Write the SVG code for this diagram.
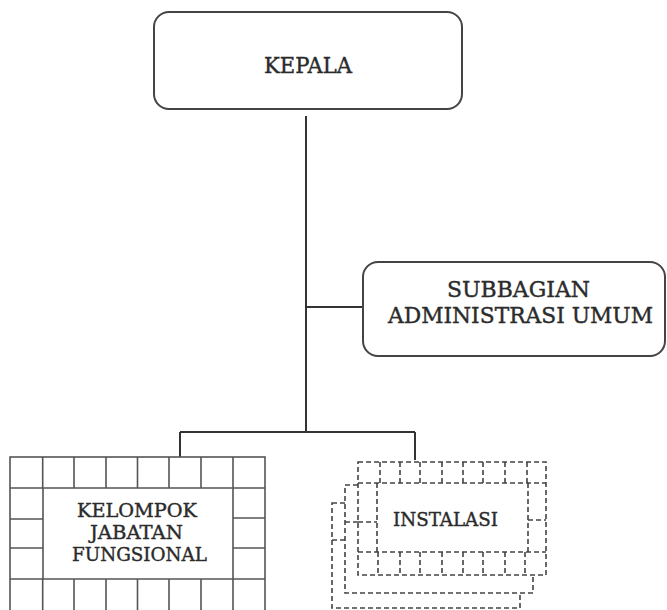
<svg xmlns="http://www.w3.org/2000/svg" width="667" height="610" viewBox="0 0 667 610">
<style>
.box{fill:#fff;stroke:#444;stroke-width:2}
.grid{fill:none;stroke:#555;stroke-width:1.6}
.gridbg{fill:#fff;stroke:#555;stroke-width:1.6}
.dash{fill:#fff;stroke:#444;stroke-width:1.6;stroke-dasharray:5 3}
.dl{fill:none;stroke:#444;stroke-width:1.6;stroke-dasharray:5 3}
.conn{fill:none;stroke:#333;stroke-width:2}
text{font-family:"DejaVu Serif","Liberation Serif",serif;fill:#2b2b2b;stroke:#2b2b2b;stroke-width:0.4;text-anchor:middle}
.big{font-size:21.5px}
.small{font-size:18.5px}
</style>
<rect width="667" height="610" fill="#fff"/>
<g id="connectors">
<path class="conn" d="M306 116V432M306 307H363M180 432H415M180 432V457M415 432V460"/>
</g>
<g id="kepala">
<rect class="box" x="154" y="12" width="308" height="97" rx="15"/>
<text class="big" x="308" y="73" textLength="88" lengthAdjust="spacingAndGlyphs">KEPALA</text>
</g>
<g id="subbagian">
<rect class="box" x="363" y="262" width="302" height="94" rx="15"/>
<text class="big" x="518.5" y="297" textLength="143" lengthAdjust="spacingAndGlyphs">SUBBAGIAN</text>
<text class="big" x="520.5" y="323" textLength="265" lengthAdjust="spacingAndGlyphs">ADMINISTRASI UMUM</text>
</g>
<g id="kelompok">
<rect class="gridbg" x="10" y="457" width="255" height="154"/>
<path class="grid" d="M10 488H265M10 579H265M43 488V579M233 488V579M10 519H43M10 548H43M233 518H265M233 548H265M42.7 457V488M74 457V488M106 457V488M137.5 457V488M169 457V488M201 457V488M233 457V488M42.7 579V611M74 579V611M106 579V611M137.5 579V611M169 579V611M201 579V611M233 579V611"/>
<text class="small" x="137" y="517" textLength="120" lengthAdjust="spacingAndGlyphs">KELOMPOK</text>
<text class="small" x="136.5" y="539" textLength="93" lengthAdjust="spacingAndGlyphs">JABATAN</text>
<text class="small" x="139.5" y="561" textLength="135" lengthAdjust="spacingAndGlyphs">FUNGSIONAL</text>
</g>
<g id="instalasi">
<rect class="dash" x="332" y="503" width="188" height="105"/>
<path class="dl" d="M332 540H345"/>
<rect class="dash" x="345" y="485" width="188" height="108"/>
<path class="dl" d="M345 522H358"/>
<rect class="dash" x="358" y="462" width="188" height="113"/>
<path class="dl" d="M358 483H546M358 552H546M377 483V552M528 483V552M358 522H377M528 520H546M380 462V483M400 462V483M420 462V483M442 462V483M463 462V483M483 462V483M505 462V483M527 462V483M378 552V575M400 552V575M420 552V575M442 552V575M463 552V575M483 552V575M505 552V575M525 552V575"/>
<text class="small" x="445.5" y="526" textLength="105" lengthAdjust="spacingAndGlyphs">INSTALASI</text>
</g>
</svg>
